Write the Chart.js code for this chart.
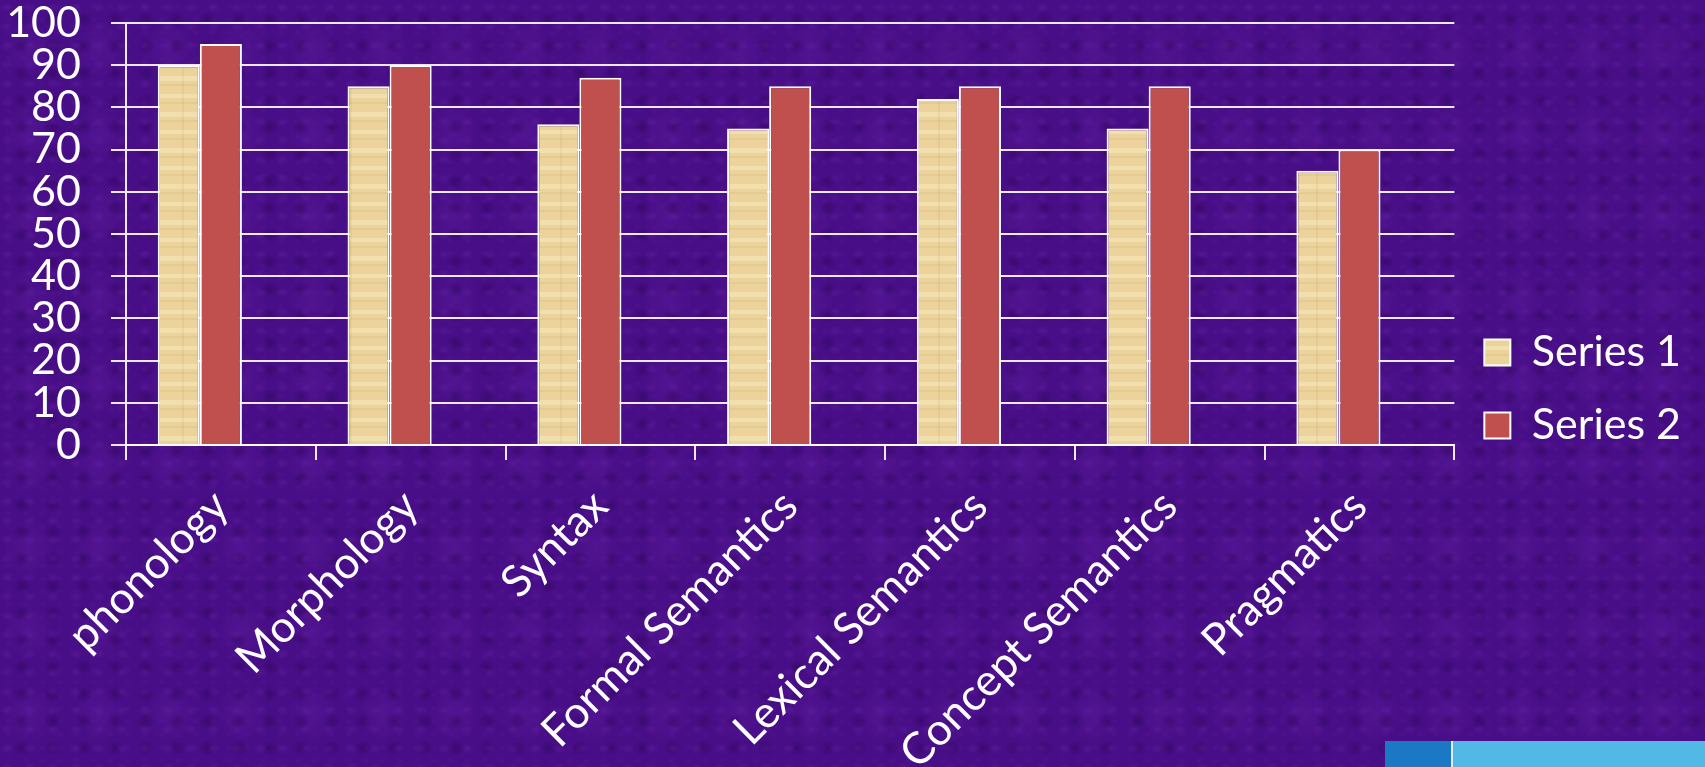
<!DOCTYPE html>
<html>
<head>
<meta charset="utf-8">
<script src="https://cdn.jsdelivr.net/npm/chart.js@4"></script>
<style>
  html, body { margin: 0; padding: 0; }
  body {
    width: 1705px; height: 767px; overflow: hidden; position: relative;
    background-color: #480e87;
    background-image:
      radial-gradient(ellipse at 30% 40%, rgba(105, 35, 165, 0.35) 0, rgba(105, 35, 165, 0) 30%),
      radial-gradient(ellipse at 70% 70%, rgba(35, 0, 70, 0.35) 0, rgba(35, 0, 70, 0) 30%),
      radial-gradient(ellipse at 50% 50%, rgba(95, 25, 155, 0.3) 0, rgba(95, 25, 155, 0) 35%),
      radial-gradient(ellipse at 40% 60%, rgba(110, 40, 175, 0.25) 0, rgba(110, 40, 175, 0) 40%);
    background-size: 23px 19px, 31px 27px, 17px 13px, 71px 83px;
  }
  #wrap { position: absolute; left: 0; top: 0; width: 1705px; height: 767px; }
  #logo { position: absolute; left: 1385px; top: 741px; width: 320px; height: 26px; background: #52b9e6; }
  #logo .mark { position: absolute; left: 0; top: 0; width: 66px; height: 26px; background: #1b78c4; border-right: 2px solid #d8eef8; }
</style>
</head>
<body>
<div id="logo"><div class="mark"></div></div>
<div id="wrap"><canvas id="barChart" width="1705" height="767"></canvas></div>
<script>
const categories = ['phonology', 'Morphology', 'Syntax', 'Formal Semantics', 'Lexical Semantics', 'Concept Semantics', 'Pragmatics'];
const series1 = [90, 85, 76, 75, 82, 75, 65];
const series2 = [95, 90, 87, 85, 85, 85, 70];
const yTicks = [0, 10, 20, 30, 40, 50, 60, 70, 80, 90, 100];

const FONT = 'Lato';

// paper-like fill for the first series
const makePaper = () => {
  const c = document.createElement('canvas');
  c.width = 42; c.height = 36;
  const g = c.getContext('2d');
  g.fillStyle = '#ebd39b';
  g.fillRect(0, 0, 42, 36);
  g.fillStyle = 'rgba(255, 245, 210, 0.35)';
  g.fillRect(0, 4, 42, 5);
  g.fillRect(0, 22, 42, 4);
  g.fillStyle = 'rgba(190, 160, 100, 0.15)';
  g.fillRect(0, 12, 42, 2);
  g.fillRect(0, 30, 42, 2);
  g.fillRect(14, 0, 2, 36);
  return g.createPattern(c, 'repeat');
};

const barData = {
  labels: categories,
  datasets: [{
    label: 'Series 1',
    data: series1,
    backgroundColor: makePaper(),
    borderColor: '#ffffff',
    borderWidth: 2
  }, {
    label: 'Series 2',
    data: series2,
    backgroundColor: '#c0504d',
    borderColor: '#ffffff',
    borderWidth: 2
  }, {
    // empty slot so the pair sits left of the category centre, as in the original
    label: '',
    data: categories.map(() => null)
  }]
};

const barOptions = {
  responsive: false,
  animation: false,
  devicePixelRatio: 1,
  layout: {
    padding: { top: 0, right: 14, left: 0, bottom: 0 }
  },
  datasets: {
    bar: {
      barPercentage: 1,
      categoryPercentage: 0.665
    }
  },
  scales: {
    x: {
      ticks: {
        color: 'white',
        maxRotation: 45,
        minRotation: 45,
        padding: 20,
        font: { family: FONT, size: 44 }
      },
      grid: {
        drawOnChartArea: false,
        color: 'rgba(255, 255, 255, 0.9)',
        lineWidth: 2,
        tickLength: 15,
        offset: true
      },
      border: { color: 'rgba(255, 255, 255, 0.9)', width: 2 },
      afterFit: (scale) => { scale.height = 322; }
    },
    y: {
      min: 0,
      max: 100,
      afterBuildTicks: (scale) => { scale.ticks = yTicks.map(v => ({ value: v })); },
      ticks: {
        color: 'white',
        autoSkip: false,
        padding: 30,
        font: { family: FONT, size: 43 }
      },
      grid: {
        color: 'rgba(255, 255, 255, 0.9)',
        lineWidth: 2,
        tickLength: 15
      },
      border: { color: 'rgba(255, 255, 255, 0.9)', width: 2 },
      afterFit: (scale) => {
        scale.width = 126;
        scale.paddingTop = 23;
      }
    }
  },
  plugins: {
    legend: {
      position: 'right',
      align: 'center',
      title: { display: true, text: '', padding: 5, font: { size: 1 } },
      labels: {
        color: 'white',
        boxWidth: 26,
        boxHeight: 26,
        padding: 30,
        font: { family: FONT, size: 43 },
        filter: (item) => item.text !== ''
      }
    },
    tooltip: { enabled: false }
  }
};

const barChart = new Chart(document.getElementById('barChart'), {
  type: 'bar',
  data: barData,
  options: barOptions
});
</script>
</body>
</html>
